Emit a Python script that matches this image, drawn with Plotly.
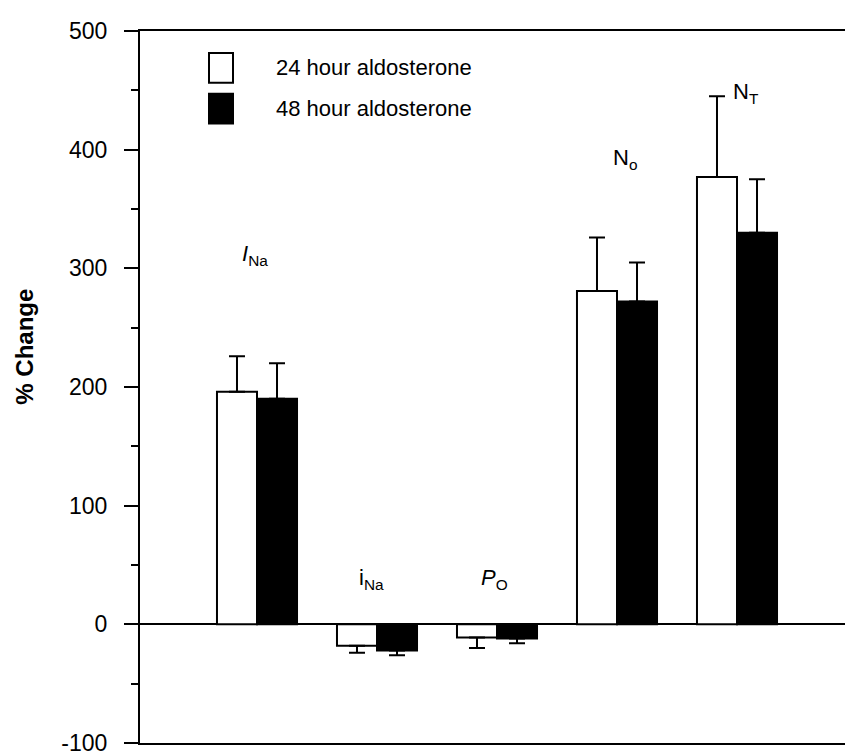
import plotly.graph_objects as go

# ---- data ----
categories = [1, 2, 3, 4, 5]  # I_Na, i_Na, P_O, N_o, N_T
series_names = ["24 hour aldosterone", "48 hour aldosterone"]
values_24h = [196, -18, -11, 281, 377]
values_48h = [190, -22, -12, 272, 330]
errors_24h = [30, 6, 9, 45, 68]
errors_48h = [30, 4, 4, 33, 45]
group_labels = ["<i>I</i><sub>Na</sub>", "i<sub>Na</sub>", "<i>P</i><sub>O</sub>",
                "N<sub>o</sub>", "N<sub>T</sub>"]
label_x = [0.98, 1.95, 2.98, 4.07, 5.075]
label_y = [311, 38, 38, 392, 448]
y_ticks = [-100, 0, 100, 200, 300, 400, 500]
y_tick_text = ["-100", "0", "100", "200", "300", "400", "500"]

FONT = "Liberation Sans, Arial, sans-serif"


def one_sided(vals, errs):
    up = [e if v >= 0 else 0 for v, e in zip(vals, errs)]
    down = [e if v < 0 else 0 for v, e in zip(vals, errs)]
    return up, down


fig = go.Figure()
for name, vals, errs, fill in [
    (series_names[0], values_24h, errors_24h, "white"),
    (series_names[1], values_48h, errors_48h, "black"),
]:
    up, down = one_sided(vals, errs)
    fig.add_trace(go.Bar(
        x=categories, y=vals, name=name,
        marker=dict(color=fill, line=dict(color="black", width=2)),
        error_y=dict(type="data", symmetric=False, array=up, arrayminus=down,
                     color="black", thickness=2, width=8),
        showlegend=False,
    ))

# plot-area geometry in pixels (for paper-coordinate legend placement)
L, R, T, B = 140, 845, 31, 746
W, H = R - L, B - T


def px(xp):
    return (xp - L) / W


def py(yp):
    return (B - yp) / H


shapes = []
annotations = []
# custom legend boxes
for i, (fill, y0, y1) in enumerate([("white", 53, 83), ("black", 94, 124)]):
    shapes.append(dict(type="rect", xref="paper", yref="paper",
                       x0=px(209), x1=px(233), y0=py(y1), y1=py(y0),
                       fillcolor=fill, line=dict(color="black", width=2)))
    annotations.append(dict(xref="paper", yref="paper", x=px(274), y=py((y0 + y1) / 2),
                            text=series_names[i], showarrow=False, xanchor="left",
                            yanchor="middle", font=dict(family=FONT, size=22, color="black")))

for lx, ly, txt in zip(label_x, label_y, group_labels):
    annotations.append(dict(x=lx, y=ly, xref="x", yref="y", text=txt, showarrow=False,
                            xanchor="center", yanchor="middle",
                            font=dict(family=FONT, size=22, color="black")))

annotations.append(dict(xref="paper", yref="paper", x=px(25), y=py(348),
                        text="<b>% Change</b>", showarrow=False, textangle=-90,
                        xanchor="center", yanchor="middle",
                        font=dict(family=FONT, size=24, color="black")))

fig.update_layout(
    width=845, height=756,
    margin=dict(l=L, r=0, t=T, b=756 - B),
    paper_bgcolor="white", plot_bgcolor="white",
    barmode="group", bargap=0.333, bargroupgap=0,
    shapes=shapes, annotations=annotations,
    font=dict(family=FONT, size=22, color="black"),
)
fig.update_xaxes(range=[0.025, 0.025 + W / 120], showticklabels=False, ticks="",
                 showgrid=False, zeroline=False, showline=True, mirror=True,
                 linecolor="black", linewidth=2)
fig.update_yaxes(range=[-100, 500], tickvals=y_ticks, ticktext=y_tick_text,
                 ticks="outside", ticklen=14,
                 tickwidth=2, tickcolor="black", showgrid=False,
                 showline=True, linecolor="black", linewidth=2,
                 zeroline=True, zerolinecolor="black", zerolinewidth=2,
                 ticklabelstandoff=12, ticklabeloverflow="allow",
                 tickfont=dict(family=FONT, size=23, color="black"),
                 minor=dict(dtick=50, ticks="outside", ticklen=7, tickwidth=2,
                            tickcolor="black", showgrid=False))

fig.write_html("out.html",
               config={"displayModeBar": False},
               post_script="document.body.style.margin='0px';"
                           "document.body.style.overflow='hidden';")
